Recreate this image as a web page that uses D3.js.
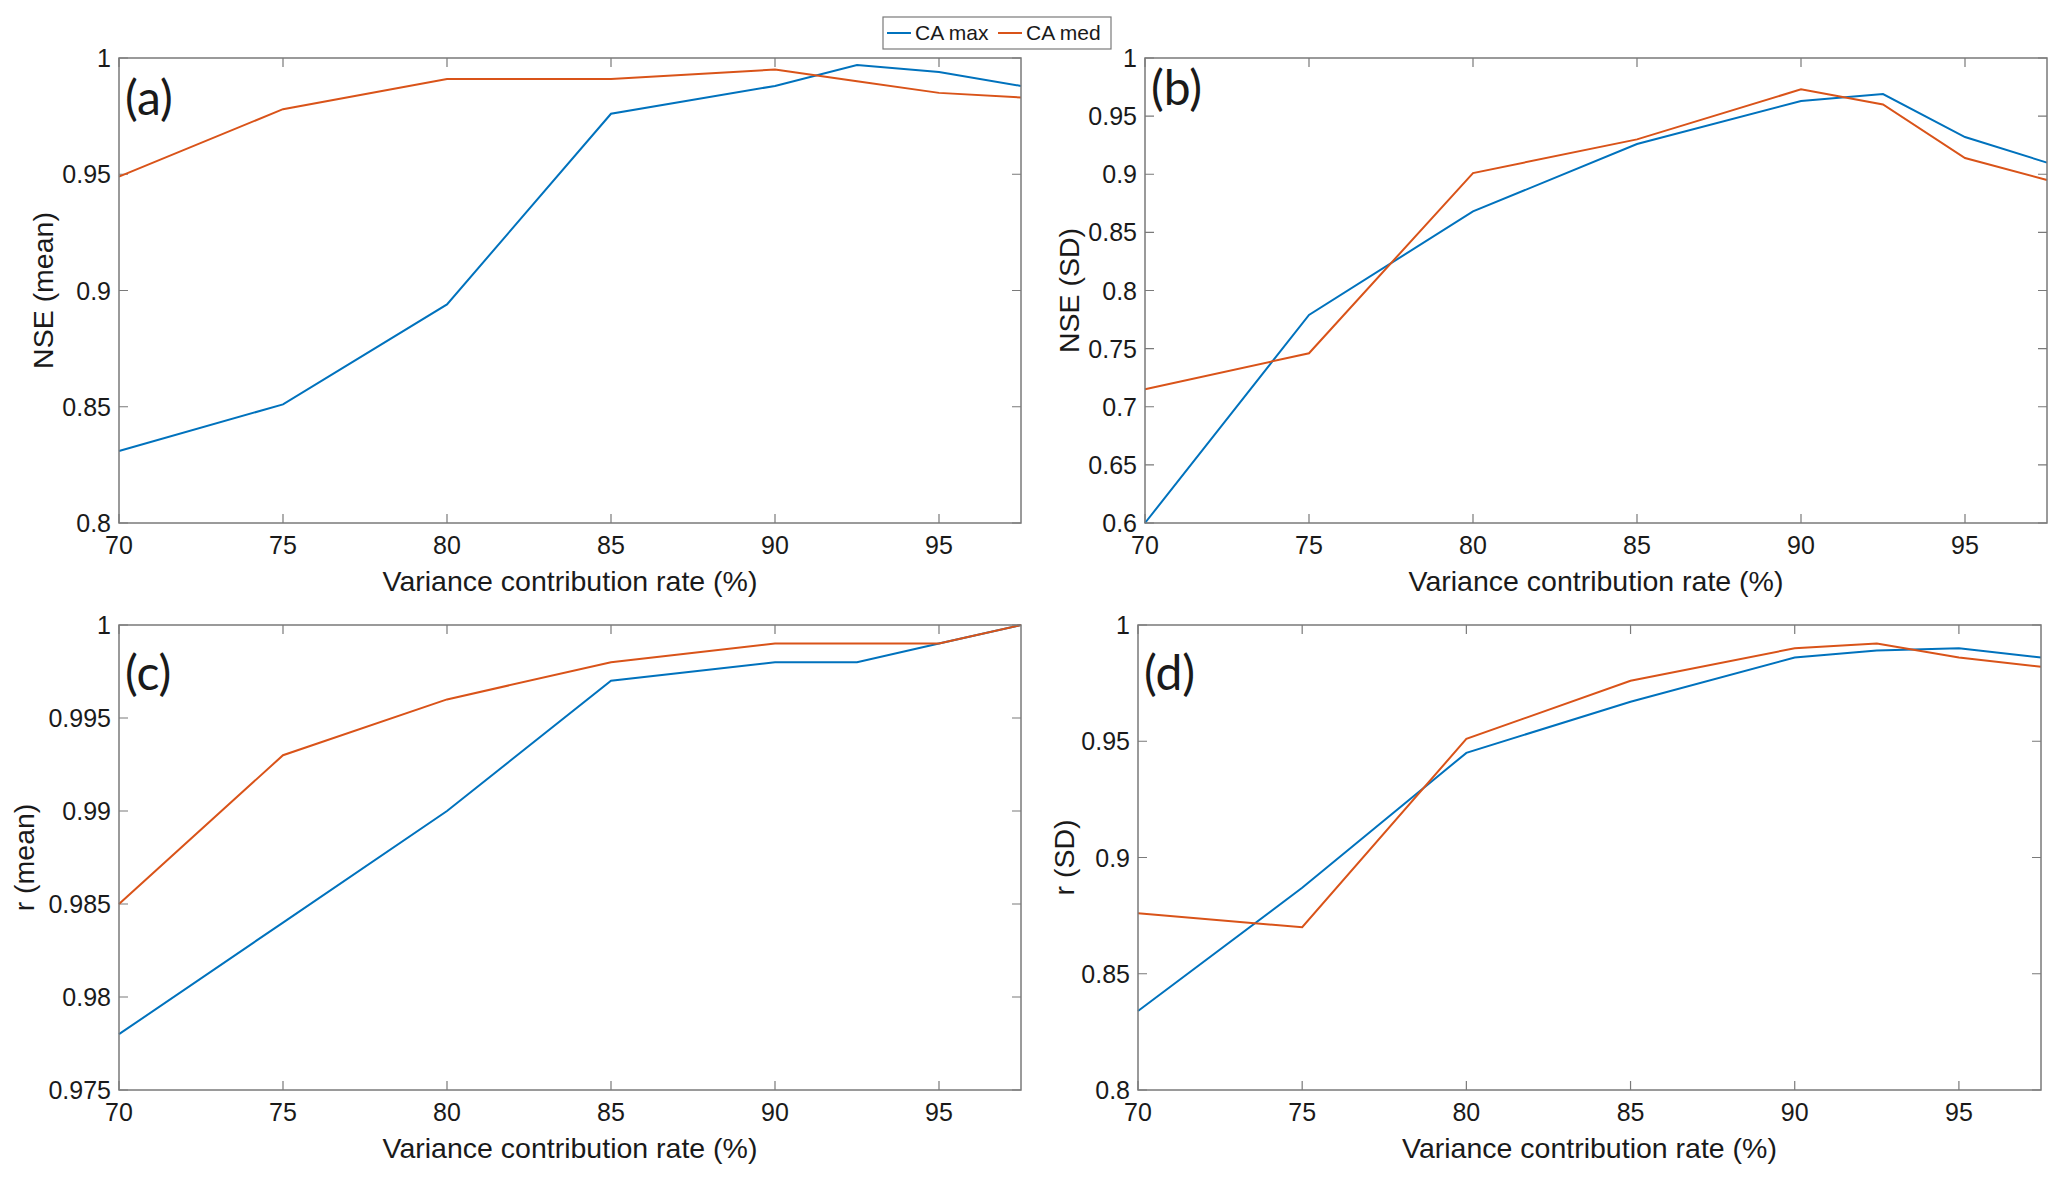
<!DOCTYPE html>
<html lang='en'>
<head>
  <meta charset='UTF-8'>
  <title>NSE and r vs variance contribution rate</title>
  <script src='https://d3js.org/d3.v7.min.js'></script>
  <style>
    html, body { margin: 0; padding: 0; background: #fff; }
    #main { width: 2067px; height: 1184px; }
    text { font-family: 'Liberation Sans', Arial, sans-serif; fill: #1a1a1a; }
  </style>
</head>
<body>
<div id='main'></div>
<script>
  // x: variance contribution rate (%)
  const xValues = [70, 75, 80, 85, 90, 92.5, 95, 97.5]
  const xTicks = [70, 75, 80, 85, 90, 95]

  // (a) NSE (mean)
  const nseMeanMax = [0.831, 0.851, 0.894, 0.976, 0.988, 0.997, 0.994, 0.988]
  const nseMeanMed = [0.949, 0.978, 0.991, 0.991, 0.995, 0.990, 0.985, 0.983]
  const nseMeanTicks = [0.8, 0.85, 0.9, 0.95, 1]

  // (b) NSE (SD)
  const nseSdMax = [0.600, 0.779, 0.868, 0.926, 0.963, 0.969, 0.932, 0.910]
  const nseSdMed = [0.715, 0.746, 0.901, 0.930, 0.973, 0.960, 0.914, 0.895]
  const nseSdTicks = [0.6, 0.65, 0.7, 0.75, 0.8, 0.85, 0.9, 0.95, 1]

  // (c) r (mean)
  const rMeanMax = [0.978, 0.984, 0.990, 0.997, 0.998, 0.998, 0.999, 1.000]
  const rMeanMed = [0.985, 0.993, 0.996, 0.998, 0.999, 0.999, 0.999, 1.000]
  const rMeanTicks = [0.975, 0.98, 0.985, 0.99, 0.995, 1]

  // (d) r (SD)
  const rSdMax = [0.834, 0.887, 0.945, 0.967, 0.986, 0.989, 0.990, 0.986]
  const rSdMed = [0.876, 0.870, 0.951, 0.976, 0.990, 0.992, 0.986, 0.982]
  const rSdTicks = [0.8, 0.85, 0.9, 0.95, 1]

  const seriesNames = ['CA max', 'CA med']
  const colors = ['#0072BD', '#D95319']

  const frameColor = '#7a7a7a'
  const tickSize = 25
  const labelSize = 28.5

  const svg = d3.select('#main').append('svg')
    .attr('width', 2067)
    .attr('height', 1184)

  // 画一个子图
  function drawPanel (opt) {
    const x = d3.scaleLinear().domain([70, 97.5]).range([opt.left, opt.right])
    const y = d3.scaleLinear().domain(opt.domain).range([opt.bottom, opt.top])
    const g = svg.append('g')

    // 刻度线（四边朝内）
    const tl = 9
    g.selectAll('.xt').data(xTicks).enter().append('path')
      .attr('d', d => `M${x(d)},${opt.bottom}v${-tl}M${x(d)},${opt.top}v${tl}`)
      .attr('stroke', frameColor).attr('stroke-width', 1.2)
    g.selectAll('.yt').data(opt.ticks).enter().append('path')
      .attr('d', d => `M${opt.left},${y(d)}h${tl}M${opt.right},${y(d)}h${-tl}`)
      .attr('stroke', frameColor).attr('stroke-width', 1.2)

    // 数据线
    const line = d3.line().x((d, i) => x(xValues[i])).y(d => y(d))
    opt.series.forEach((s, i) => {
      g.append('path')
        .attr('d', line(s))
        .attr('fill', 'none')
        .attr('stroke', colors[i])
        .attr('stroke-width', 2)
    })

    // 边框
    g.append('rect')
      .attr('x', opt.left).attr('y', opt.top)
      .attr('width', opt.right - opt.left).attr('height', opt.bottom - opt.top)
      .attr('fill', 'none').attr('stroke', frameColor).attr('stroke-width', 1.5)

    // 刻度文字
    g.selectAll('.xl').data(xTicks).enter().append('text')
      .attr('x', d => x(d)).attr('y', opt.bottom + 31)
      .attr('text-anchor', 'middle')
      .style('font-size', tickSize + 'px')
      .text(d => d)
    g.selectAll('.yl').data(opt.ticks).enter().append('text')
      .attr('x', opt.left - 8).attr('y', d => y(d) + 9)
      .attr('text-anchor', 'end')
      .style('font-size', tickSize + 'px')
      .text(d => d)

    // 轴标题
    g.append('text')
      .attr('x', (opt.left + opt.right) / 2).attr('y', opt.bottom + 68)
      .attr('text-anchor', 'middle')
      .style('font-size', labelSize + 'px')
      .text('Variance contribution rate (%)')
    const cy = (opt.top + opt.bottom) / 2
    g.append('text')
      .attr('transform', `translate(${opt.ylabelX},${cy}) rotate(-90)`)
      .attr('text-anchor', 'middle')
      .style('font-size', labelSize + 'px')
      .text(opt.ylabel)

    // 子图编号
    g.append('text')
      .attr('x', opt.left + 6).attr('y', opt.top + opt.tagDy)
      .style('font-family', 'Lato, "Open Sans", sans-serif')
      .style('font-size', '48px')
      .text(opt.tag)
  }

  drawPanel({ left: 119, right: 1021, top: 58, bottom: 523, domain: [0.8, 1], ticks: nseMeanTicks,
    series: [nseMeanMax, nseMeanMed], ylabel: 'NSE (mean)', ylabelX: 53, tag: '(a)', tagDy: 57 })
  drawPanel({ left: 1145, right: 2047, top: 58, bottom: 523, domain: [0.6, 1], ticks: nseSdTicks,
    series: [nseSdMax, nseSdMed], ylabel: 'NSE (SD)', ylabelX: 1079, tag: '(b)', tagDy: 47 })
  drawPanel({ left: 119, right: 1021, top: 625, bottom: 1090, domain: [0.975, 1], ticks: rMeanTicks,
    series: [rMeanMax, rMeanMed], ylabel: 'r (mean)', ylabelX: 34, tag: '(c)', tagDy: 65 })
  drawPanel({ left: 1138, right: 2041, top: 625, bottom: 1090, domain: [0.8, 1], ticks: rSdTicks,
    series: [rSdMax, rSdMed], ylabel: 'r (SD)', ylabelX: 1074, tag: '(d)', tagDy: 65 })

  // 图例
  const legend = svg.append('g')
  legend.append('rect')
    .attr('x', 883).attr('y', 17).attr('width', 228).attr('height', 32)
    .attr('fill', '#fff').attr('stroke', frameColor).attr('stroke-width', 1.2)
  const items = legend.selectAll('.item').data(seriesNames).enter().append('g')
    .attr('transform', (d, i) => `translate(${887 + i * 111},33)`)
  items.append('line')
    .attr('x1', 0).attr('x2', 24).attr('y1', 0).attr('y2', 0)
    .attr('stroke', (d, i) => colors[i]).attr('stroke-width', 2)
  items.append('text')
    .attr('x', 28).attr('y', 7)
    .style('font-size', '21px')
    .text(d => d)
</script>
</body>
</html>
